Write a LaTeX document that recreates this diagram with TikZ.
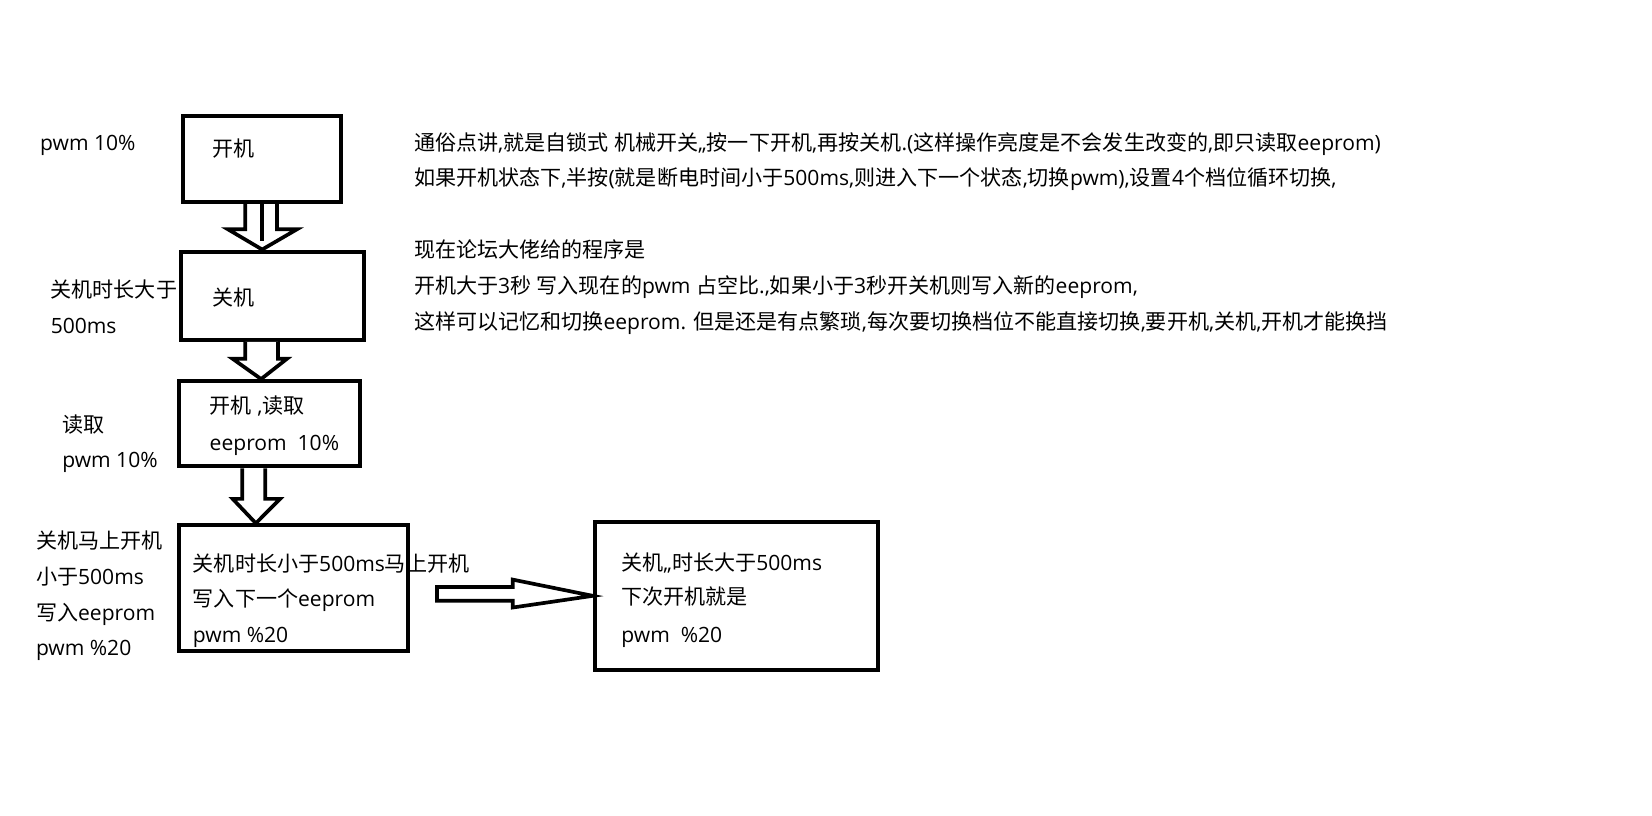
\documentclass[tikz,border=0pt]{standalone}
\usepackage{fontspec}
\setmainfont{Open Sans}
\newfontfamily\cjk{Noto Sans CJK SC}
\usetikzlibrary{calc}
\makeatletter
\newXeTeXintercharclass\mycjkclass
\@tempcnta="4E00
\loop\ifnum\@tempcnta<"A000
  \XeTeXcharclass\@tempcnta=\mycjkclass
  \advance\@tempcnta\@ne
\repeat
\makeatother
\XeTeXinterchartokenstate=1
\XeTeXinterchartoks 0 \mycjkclass={\cjk}
\XeTeXinterchartoks 4095 \mycjkclass={\cjk}
\XeTeXinterchartoks \mycjkclass 0={\rmfamily}
\XeTeXinterchartoks \mycjkclass 4095={\rmfamily}
\tikzset{
  txt/.style={anchor=base west, inner sep=0pt, font=\fontsize{20}{24}\selectfont},
  box/.style={draw=black, line width=3.8pt, anchor=north west, inner sep=0pt},
  harrow/.style={draw=black, fill=white, line width=3.5pt, line join=miter},
}
\begin{document}
\begin{tikzpicture}[x=1pt,y=-1pt]
\useasboundingbox[fill=white] (0,0) rectangle (1569,775);
% boxes
\node[box, minimum width=150pt, minimum height=82pt] (b1) at (172,108) {};
\node[box, minimum width=174pt, minimum height=84pt] (b2) at (170,237) {};
\node[box, minimum width=172pt, minimum height=81pt] (b3) at (168,360) {};
\node[box, minimum width=218pt, minimum height=119pt] (b4) at (168,497) {};
\node[box, minimum width=269pt, minimum height=140pt] (b5) at (563,494) {};
% box texts
\node[txt] (t1) at (202,149) {开机};
\node[txt] (t2) at (202,290) {关机};
\node[txt] (t3a) at (199,393) {开机 ,读取};
\node[txt] (t3b) at (199,428) {eeprom\ \ 10\%};
\node[txt] (t4a) at (183,543) {关机时长小于500ms马上开机};
\node[txt] (t4b) at (183,576) {写入下一个eeprom};
\node[txt] (t4c) at (183,610) {pwm \%20};
\node[txt] (t5a) at (590,542) {关机,,时长大于500ms};
\node[txt] (t5b) at (590,574) {下次开机就是};
\node[txt] (t5c) at (590,610) {pwm\ \ \%20};
% left labels
\node[txt] (l1) at (38,143) {pwm 10\%};
\node[txt] (l2a) at (48,283) {关机时长大于};
\node[txt] (l2b) at (48,317) {500ms};
\node[txt] (l3a) at (59,411) {读取};
\node[txt] (l3b) at (59,444) {pwm 10\%};
\node[txt] (l4a) at (34,521) {关机马上开机};
\node[txt] (l4b) at (34,555) {小于500ms};
\node[txt] (l4c) at (34,589) {写入eeprom};
\node[txt] (l4d) at (34,623) {pwm \%20};
% right text
\node[txt] (r1) at (393,143) {通俗点讲,就是自锁式 机械开关,,按一下开机,再按关机.(这样操作亮度是不会发生改变的,即只读取eeprom)};
\node[txt] (r2) at (393,176) {如果开机状态下,半按(就是断电时间小于500ms,则进入下一个状态,切换pwm),设置4个档位循环切换,};
\node[txt] (r3) at (393,245) {现在论坛大佬给的程序是};
\node[txt] (r4) at (393,279) {开机大于3秒 写入现在的pwm 占空比.,如果小于3秒开关机则写入新的eeprom,};
\node[txt] (r5) at (393,313) {这样可以记忆和切换eeprom. 但是还是有点繁琐,每次要切换档位不能直接切换,要开机,关机,开机才能换挡};
% arrow 1 (b1 -> b2)
\coordinate (a1t) at (249,0 |- b1.south);
\coordinate (a1p) at (249,0 |- b2.north);
\draw[harrow] ($(a1t)+(-16,0)$) -- ($(a1t)+(-16,24)$) -- ($(a1t)+(-32.5,24)$) -- (a1p)
  -- ($(a1t)+(33,24)$) -- ($(a1t)+(14,24)$) -- ($(a1t)+(14,0)$);
\draw[line width=3.4pt] (a1t) -- ($(a1p)+(0,-8)$);
% arrow 2 (b2 -> b3)
\coordinate (a2t) at (248,0 |- b2.south);
\coordinate (a2p) at (248,0 |- b3.north);
\draw[harrow] ($(a2t)+(-15,0)$) -- ($(a2t)+(-15,16)$) -- ($(a2t)+(-27,16)$) -- (a2p)
  -- ($(a2t)+(24.5,16)$) -- ($(a2t)+(16,16)$) -- ($(a2t)+(16,0)$);
% arrow 3 (b3 -> b4)
\coordinate (a3t) at (243,0 |- b3.south);
\coordinate (a3p) at (243,0 |- b4.north);
\draw[harrow] ($(a3t)+(-13,0)$) -- ($(a3t)+(-13,29)$) -- ($(a3t)+(-22,29)$) -- (a3p)
  -- ($(a3t)+(23,29)$) -- ($(a3t)+(9,29)$) -- ($(a3t)+(9,0)$);
% horizontal arrow (-> b5)
\coordinate (h0) at (415,564);
\draw[harrow] ($(h0)+(0,-6.5)$) -- ($(h0)+(72,-6.5)$) -- ($(h0)+(72,-13.5)$) -- (b5.west)
  -- ($(h0)+(72,13)$) -- ($(h0)+(72,6.5)$) -- ($(h0)+(0,6.5)$) -- cycle;
\end{tikzpicture}
\end{document}
